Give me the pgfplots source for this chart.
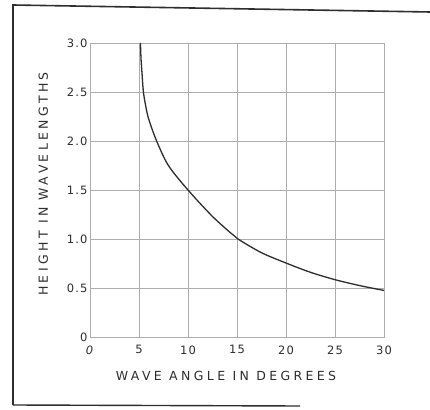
\documentclass[border=0pt]{standalone}
\usepackage{fontspec}
\setmainfont{DejaVu Sans}
\newfontfamily\tickfont[LetterSpace=10]{DejaVu Sans}
\newfontfamily\lblfont[LetterSpace=27]{DejaVu Sans}
\usepackage{pgfplots}
\pgfplotsset{compat=1.18}
\definecolor{ink}{gray}{0.18}
\definecolor{gridc}{gray}{0.68}
\begin{document}
\begin{tikzpicture}[x=1pt,y=1pt]
\useasboundingbox (-90,-72) rectangle (340,337);
\fill[white] (-90,-72) rectangle (340,337);
\begin{axis}[
  at={(0,0)}, anchor=south west,
  scale only axis, width=294pt, height=294pt,
  xmin=0, xmax=30, ymin=0, ymax=3,
  xtick={0,5,10,15,20,25,30},
  xticklabels={\textit{0},5,10,15,20,25,30},
  ytick={0,0.5,1,1.5,2,2.5,3},
  yticklabels={0,0.5,1.0,1.5,2.0,2.5,3.0},
  /pgf/number format/assume math mode=true,
  major tick length=0pt,
  grid=major,
  grid style={gridc, line width=0.8pt},
  axis line style={gridc, line width=0.9pt},
  tick label style={font=\tickfont\fontsize{11.5}{12}\selectfont, text=ink},
  xticklabel style={yshift=-5pt},
  yticklabel style={xshift=1pt},
  xlabel={\lblfont\fontsize{12.5}{13}\selectfont WAVE ANGLE IN DEGREES},
  ylabel={\lblfont\fontsize{12.5}{13}\selectfont HEIGHT IN WAVELENGTHS},
  xlabel style={text=ink, yshift=-10pt, xshift=-11pt},
  ylabel style={text=ink, yshift=12pt, xshift=6pt},
]
\addplot[ink, line width=1.3pt, smooth, tension=0.5] coordinates {
  (5.15,3.0) (5.2,2.85) (5.3,2.7) (5.45,2.5) (5.7,2.35) (6.0,2.22)
  (6.8,2.0) (8.0,1.75) (10.0,1.5) (12.4,1.24) (14.2,1.075)
  (15.1,1.0) (17.5,0.86) (20,0.755) (22.5,0.66) (25,0.585) (27.5,0.525)
  (30,0.475)
};
\end{axis}
\draw[ink, line width=1.6pt] (-77,-68) -- (-77,332) -- (340,325);
\draw[ink, line width=1.4pt] (-77,-68) -- (210,-69);
\end{tikzpicture}
\end{document}
